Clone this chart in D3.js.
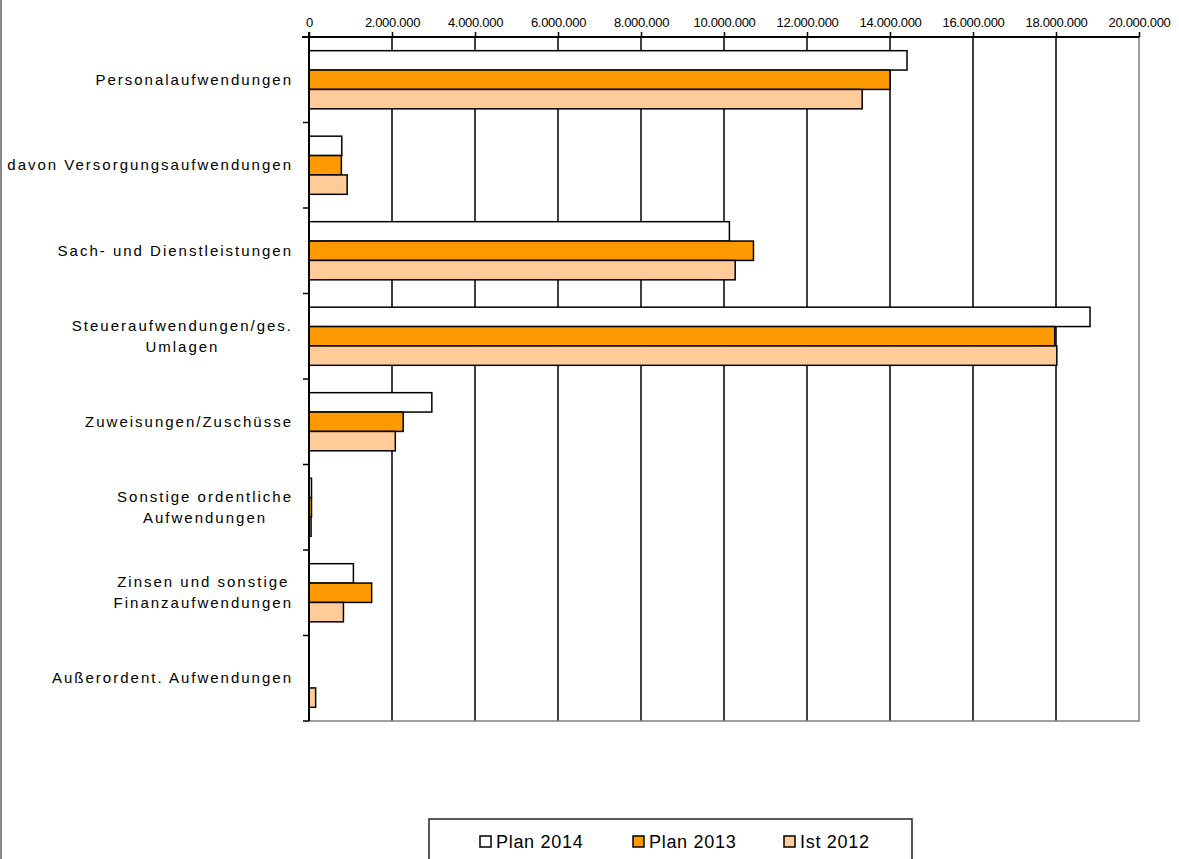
<!DOCTYPE html>
<html>
<head>
<meta charset="utf-8">
<script src="https://cdn.jsdelivr.net/npm/d3@7"></script>
<style>
  html, body { margin: 0; padding: 0; background: #fff; }
  svg { display: block; font-family: "Liberation Sans", Arial, sans-serif; }
</style>
</head>
<body>
<svg id="chart" width="1179" height="859"></svg>
<script>
// Aufwendungen nach Kostenarten (EUR)
const categories = [
  "Personalaufwendungen",
  "davon Versorgungsaufwendungen",
  "Sach- und Dienstleistungen",
  "Steueraufwendungen/ges.\nUmlagen",
  "Zuweisungen/Zuschüsse",
  "Sonstige ordentliche\nAufwendungen",
  "Zinsen und sonstige\nFinanzaufwendungen",
  "Außerordent. Aufwendungen"
];
const seriesNames = ["Plan 2014", "Plan 2013", "Ist 2012"];
const plan2014 = [14410000, 790000, 10130000, 18820000, 2960000, 60000, 1070000, 0];
const plan2013 = [14000000, 780000, 10710000, 17970000, 2270000, 60000, 1510000, 0];
const ist2012  = [13330000, 920000, 10270000, 18020000, 2080000, 50000, 830000, 160000];
const seriesValues = [plan2014, plan2013, ist2012];
const colors = ["#FFFFFF", "#FF9900", "#FFCC99"];
const tickValues = [0, 2000000, 4000000, 6000000, 8000000, 10000000, 12000000, 14000000, 16000000, 18000000, 20000000];

const svg = d3.select("#chart");
const plot = { left: 309, right: 1139, top: 37, bottom: 721 };

const x = d3.scaleLinear().domain([0, 20000000]).range([plot.left, plot.right]);
const y0 = d3.scaleBand().domain(d3.range(categories.length))
  .range([plot.top, plot.bottom]).paddingInner(0.32).paddingOuter(0.16);
const y1 = d3.scaleBand().domain(d3.range(seriesNames.length)).range([0, y0.bandwidth()]);

const fmt = v => d3.format(",")(v).replace(/,/g, ".");

// outer frame edge on the left
svg.append("line").attr("x1", 1).attr("x2", 1).attr("y1", 0).attr("y2", 859)
  .attr("stroke", "#888").attr("stroke-width", 2);

// vertical gridlines
svg.append("g").selectAll("line").data(tickValues.filter(v => v > 0 && v < 20000000)).join("line")
  .attr("x1", d => x(d)).attr("x2", d => x(d))
  .attr("y1", plot.top).attr("y2", plot.bottom)
  .attr("stroke", "#000").attr("stroke-width", 1.5);

// plot area border (right and bottom)
svg.append("path")
  .attr("d", `M${plot.right},${plot.top}V${plot.bottom}H${plot.left}`)
  .attr("fill", "none").attr("stroke", "#808080").attr("stroke-width", 1.5);

// top value axis
const xAxis = d3.axisTop(x).tickValues(tickValues).tickFormat(fmt).tickSize(5).tickPadding(5);
const gx = svg.append("g").attr("transform", `translate(0,${plot.top})`).call(xAxis);
gx.select(".domain").attr("stroke", "#000").attr("stroke-width", 2)
  .attr("d", `M${plot.left - 7},0H${plot.right}`);
gx.selectAll(".tick line").attr("stroke", "#000").attr("stroke-width", 1.5);
gx.selectAll(".tick text").attr("font-size", 13).attr("fill", "#000")
  .attr("font-family", "'Liberation Sans', Arial, sans-serif").attr("letter-spacing", "-0.3px");

// bars
const groups = svg.append("g").selectAll("g").data(categories).join("g")
  .attr("transform", (d, i) => `translate(0,${y0(i)})`);
groups.selectAll("rect").data((d, i) => seriesValues.map((s, k) => ({ k, v: s[i] }))).join("rect")
  .attr("x", x(0))
  .attr("y", d => y1(d.k))
  .attr("width", d => x(d.v) - x(0))
  .attr("height", y1.bandwidth())
  .attr("fill", d => colors[d.k])
  .attr("stroke", "#000").attr("stroke-width", 1.5)
  .attr("display", d => d.v > 0 ? null : "none");

// left category axis
const step = y0.step();
const gy = svg.append("g");
gy.append("line").attr("x1", plot.left).attr("x2", plot.left)
  .attr("y1", plot.top - 5).attr("y2", plot.bottom)
  .attr("stroke", "#000").attr("stroke-width", 2);
gy.selectAll("line.tk").data(d3.range(categories.length + 1)).join("line").attr("class", "tk")
  .attr("x1", plot.left - 6).attr("x2", plot.left)
  .attr("y1", i => plot.top + i * step).attr("y2", i => plot.top + i * step)
  .attr("stroke", "#000").attr("stroke-width", 1.5);

// category labels: right-aligned block, lines centred within it
const labelRight = 293, lineH = 21;
categories.forEach((c, i) => {
  const lines = c.split("\n");
  const cy = plot.top + (i + 0.5) * step;
  const t = svg.append("text").attr("font-size", 15).attr("fill", "#000")
    .attr("letter-spacing", "2px").attr("text-anchor", "middle");
  const spans = lines.map((ln, j) => t.append("tspan").text(ln)
    .attr("y", cy + (j - (lines.length - 1) / 2) * lineH + 5));
  const w = d3.max(spans, s => s.node().getComputedTextLength());
  spans.forEach(s => s.attr("x", labelRight - w / 2));
});

// legend
const legend = svg.append("g");
legend.append("rect").attr("x", 429).attr("y", 819).attr("width", 483).attr("height", 60)
  .attr("fill", "#fff").attr("stroke", "#222").attr("stroke-width", 1.5);
const legendX = [480, 633, 784];
seriesNames.forEach((name, k) => {
  legend.append("rect").attr("x", legendX[k]).attr("y", 836).attr("width", 11).attr("height", 11)
    .attr("fill", colors[k]).attr("stroke", "#000").attr("stroke-width", 1.5);
  legend.append("text").attr("x", legendX[k] + 16).attr("y", 848)
    .attr("font-size", 18).attr("letter-spacing", "0.7px").attr("fill", "#000").text(name);
});
</script>
</body>
</html>
